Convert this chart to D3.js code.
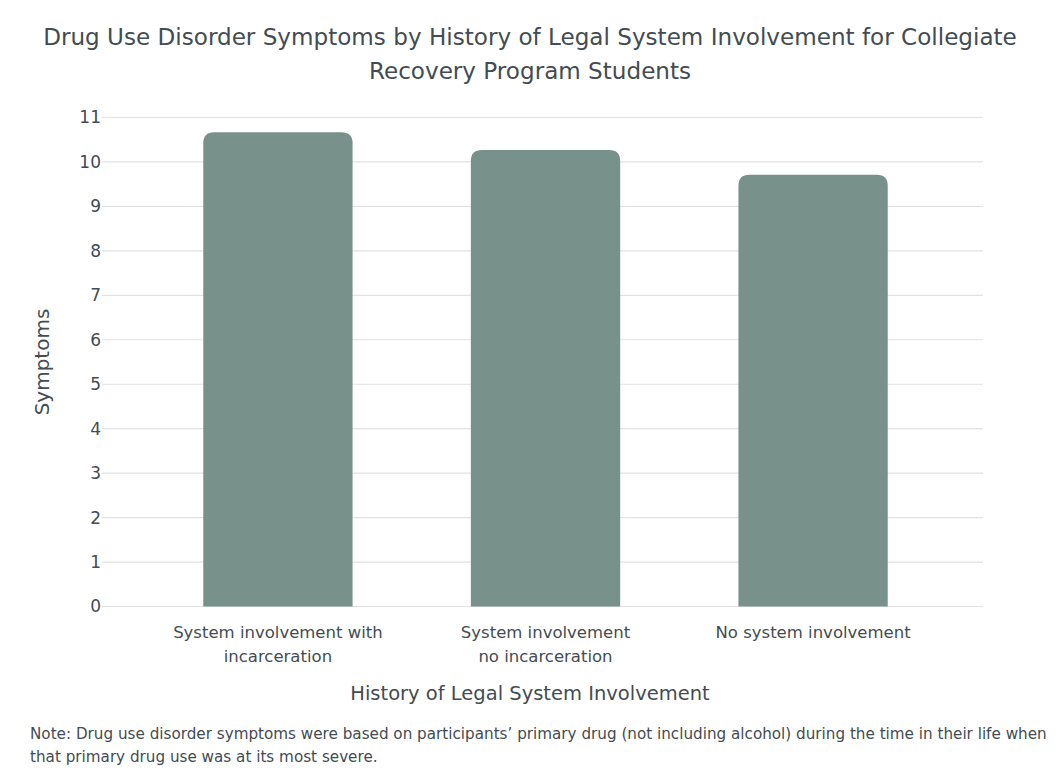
<!DOCTYPE html>
<html>
<head>
<meta charset="utf-8">
<script src="https://cdn.jsdelivr.net/npm/d3@7"></script>
<style>
  html, body { margin: 0; padding: 0; background: #fff; }
  svg { display: block; font-family: "DejaVu Sans", sans-serif; }
</style>
</head>
<body>
<svg id="chart" width="1060" height="768"></svg>
<script>
const categories = [
  ["System involvement with", "incarceration"],
  ["System involvement", "no incarceration"],
  ["No system involvement"]
];
const values = [10.67, 10.27, 9.71];
const yTicks = [0, 1, 2, 3, 4, 5, 6, 7, 8, 9, 10, 11];
const titleLines = [
  "Drug Use Disorder Symptoms by History of Legal System Involvement for Collegiate",
  "Recovery Program Students"
];
const yTitle = "Symptoms";
const xTitle = "History of Legal System Involvement";
const noteLines = [
  "Note: Drug use disorder symptoms were based on participants\u2019 primary drug (not including alcohol) during the time in their life when",
  "that primary drug use was at its most severe."
];

const textColor = "#434c52";
const barColor = "#79918b";
const gridColor = "#e2e2e2";

const svg = d3.select("#chart");
const plotLeft = 108, plotRight = 983, plotTop = 117.5, plotBottom = 606.5;

const x = d3.scaleBand()
  .domain(d3.range(categories.length))
  .range([plotLeft, plotRight])
  .paddingInner(0.442)
  .paddingOuter(0.356);

const y = d3.scaleLinear().domain([0, 11]).range([plotBottom, plotTop]);

// gridlines
svg.append("g")
  .selectAll("line")
  .data(yTicks)
  .join("line")
  .attr("x1", plotLeft - 6)
  .attr("x2", plotRight)
  .attr("y1", d => y(d))
  .attr("y2", d => y(d))
  .attr("stroke", gridColor)
  .attr("stroke-width", 1.2);

// y tick labels
svg.append("g")
  .selectAll("text")
  .data(yTicks)
  .join("text")
  .attr("x", plotLeft - 7)
  .attr("y", d => y(d))
  .attr("dy", "0.35em")
  .attr("text-anchor", "end")
  .attr("font-size", 17)
  .attr("fill", textColor)
  .text(d => d);

// bars with rounded top corners
const r = 11;
function barPath(i, v) {
  const x0 = x(i), w = x.bandwidth();
  const yt = y(v), yb = y(0);
  return `M${x0},${yb} L${x0},${yt + r} Q${x0},${yt} ${x0 + r},${yt} ` +
         `L${x0 + w - r},${yt} Q${x0 + w},${yt} ${x0 + w},${yt + r} L${x0 + w},${yb} Z`;
}
svg.append("g")
  .selectAll("path")
  .data(values)
  .join("path")
  .attr("d", (d, i) => barPath(i, d))
  .attr("fill", barColor);

// category labels
const catG = svg.append("g");
categories.forEach((lines, i) => {
  const t = catG.append("text")
    .attr("x", x(i) + x.bandwidth() / 2)
    .attr("y", 638)
    .attr("text-anchor", "middle")
    .attr("font-size", 16.5)
    .attr("fill", textColor);
  lines.forEach((ln, j) => {
    t.append("tspan")
      .attr("x", x(i) + x.bandwidth() / 2)
      .attr("dy", j === 0 ? 0 : 24)
      .text(ln);
  });
});

// title
const tt = svg.append("text")
  .attr("x", 530)
  .attr("y", 45)
  .attr("text-anchor", "middle")
  .attr("font-size", 23.1)
  .attr("fill", textColor);
titleLines.forEach((ln, j) => {
  tt.append("tspan").attr("x", 530).attr("dy", j === 0 ? 0 : 34).text(ln);
});

// axis titles
svg.append("text")
  .attr("transform", `translate(49, ${(plotTop + plotBottom) / 2}) rotate(-90)`)
  .attr("text-anchor", "middle")
  .attr("font-size", 20)
  .attr("fill", textColor)
  .text(yTitle);

svg.append("text")
  .attr("x", 530)
  .attr("y", 700)
  .attr("text-anchor", "middle")
  .attr("font-size", 19.5)
  .attr("fill", textColor)
  .text(xTitle);

// note
const nt = svg.append("text")
  .attr("x", 30)
  .attr("y", 739)
  .attr("font-size", 15.2)
  .attr("fill", textColor);
noteLines.forEach((ln, j) => {
  nt.append("tspan").attr("x", 30).attr("dy", j === 0 ? 0 : 23).text(ln);
});
</script>
</body>
</html>
